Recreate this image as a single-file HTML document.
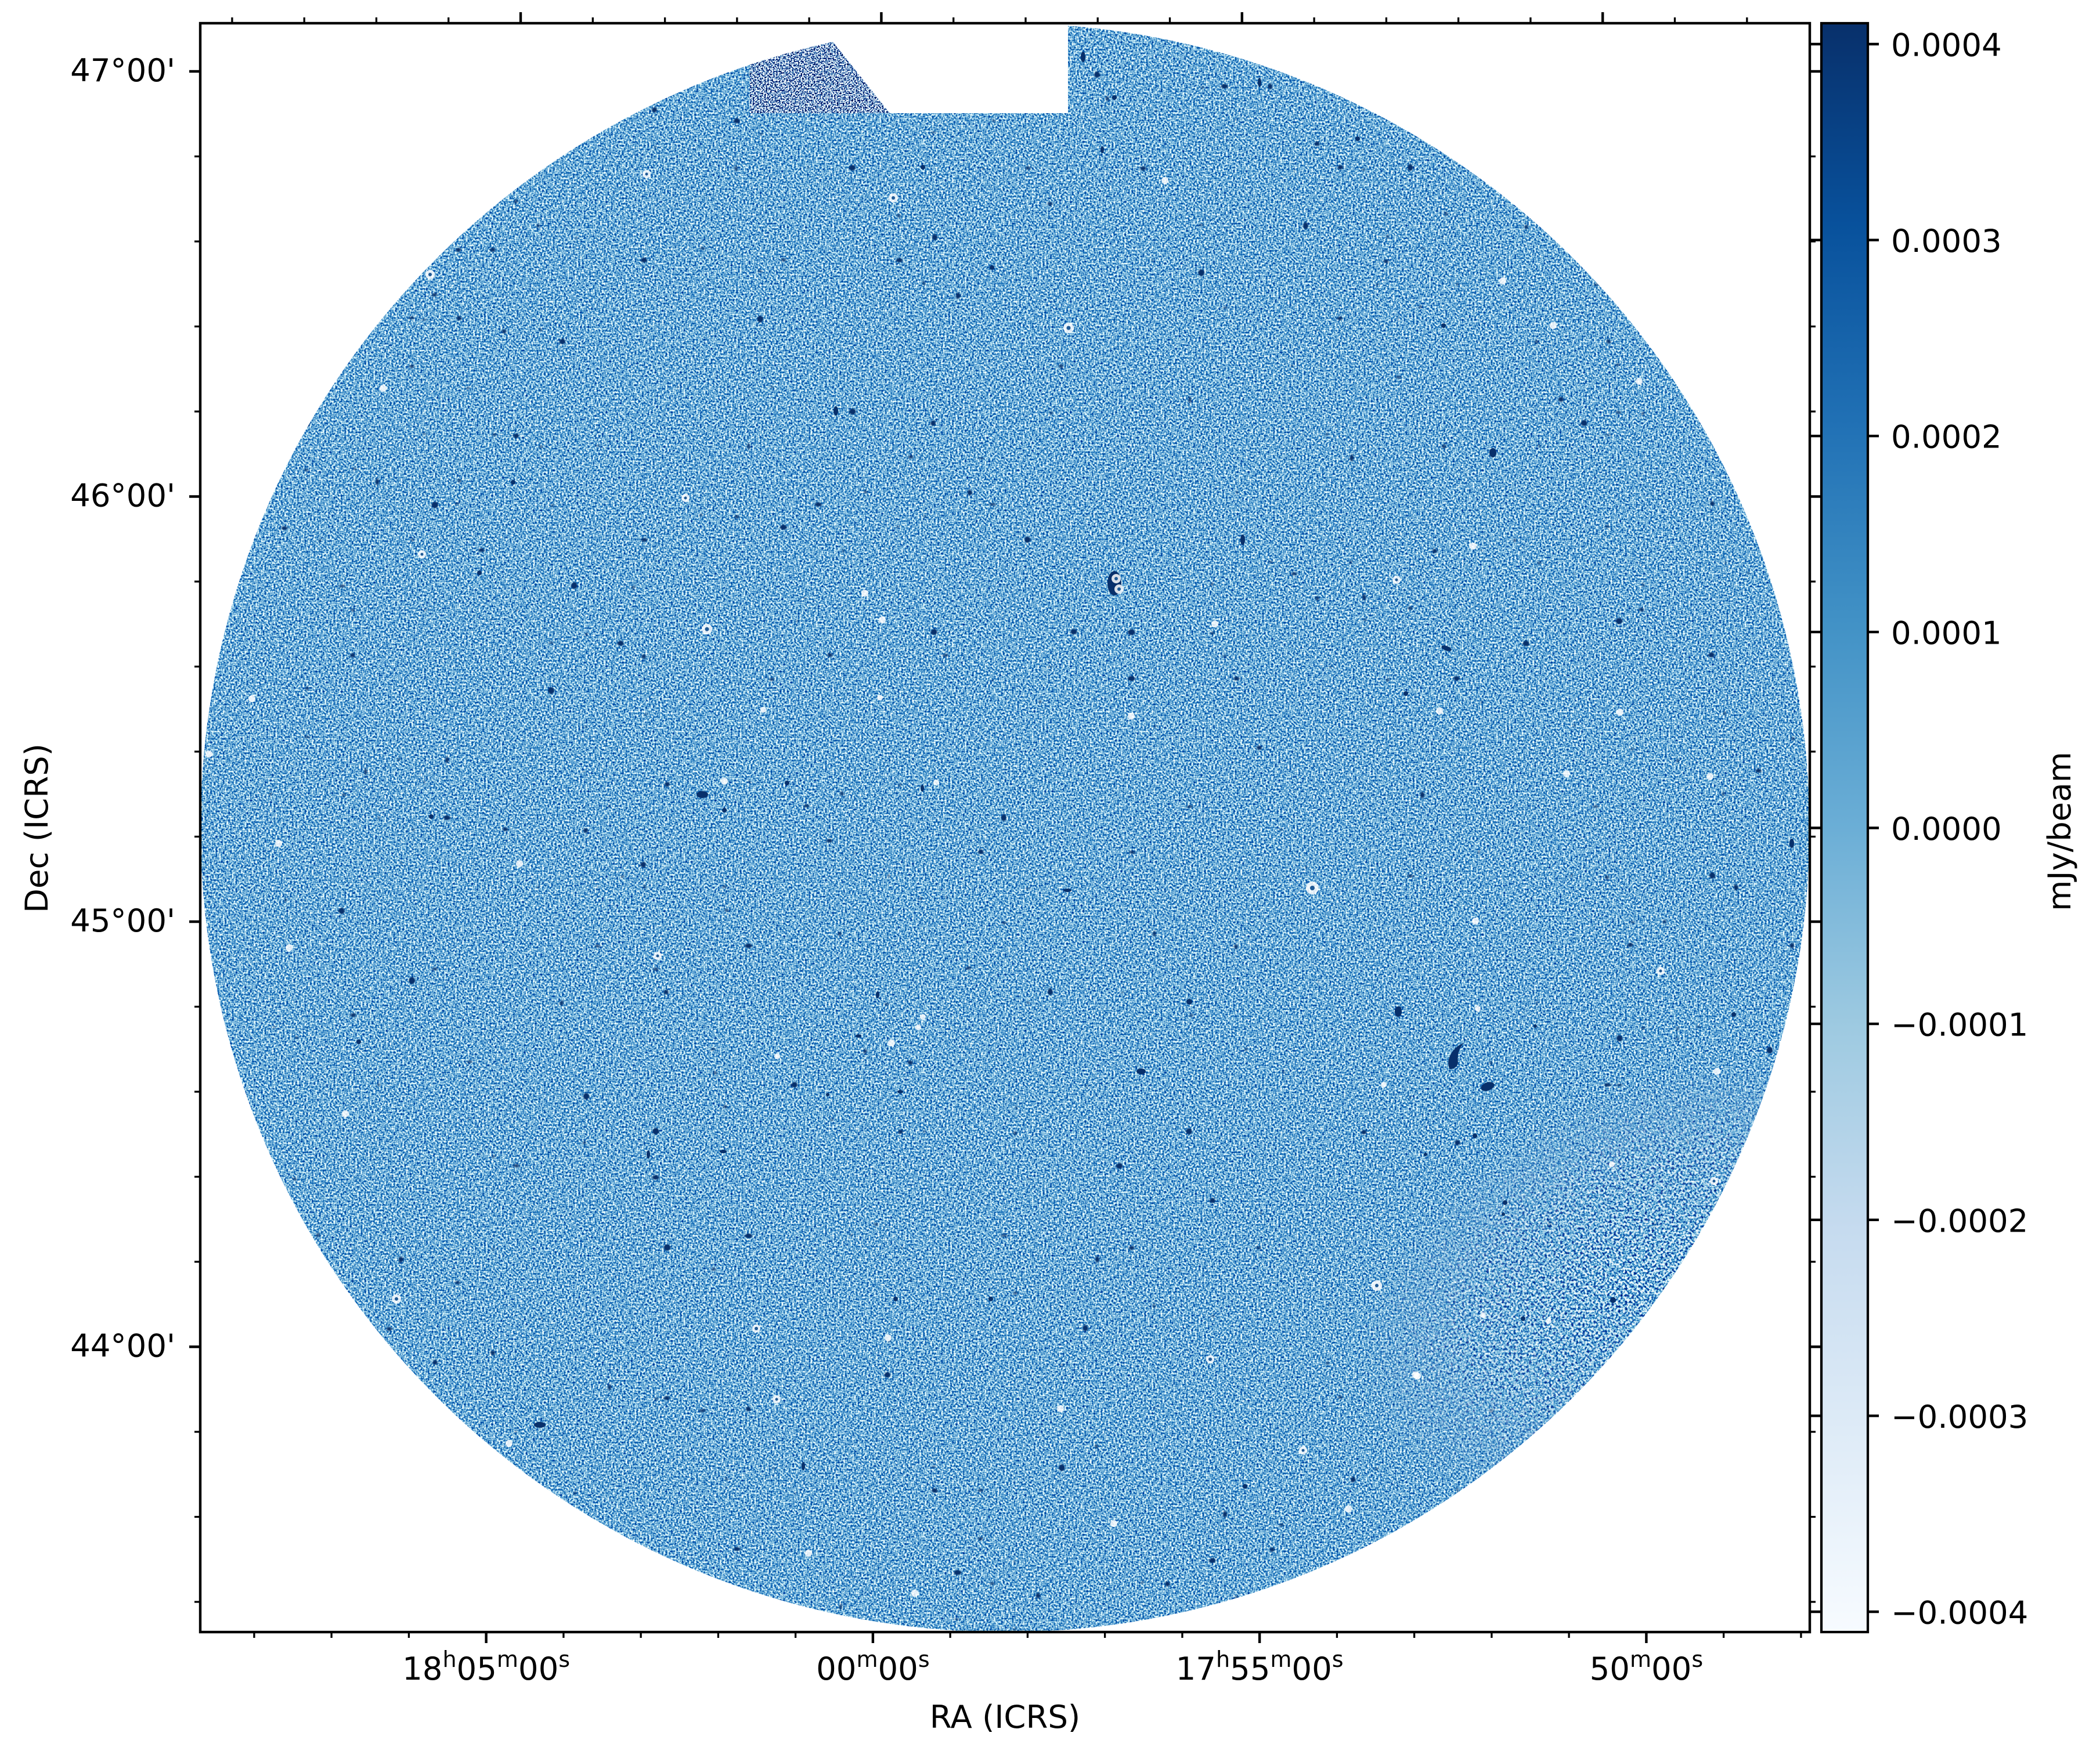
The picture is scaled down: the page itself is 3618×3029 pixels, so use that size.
<!DOCTYPE html>
<html><head><meta charset="utf-8">
<style>
html,body{margin:0;padding:0;background:#fff;}
svg{display:block;}
text{font-family:"DejaVu Sans","Liberation Sans",sans-serif;fill:#000;}
</style></head><body>
<svg xmlns="http://www.w3.org/2000/svg" width="3618" height="3029" viewBox="0 0 3618 3029">
<defs>
<clipPath id="disk"><circle cx="1731.5" cy="1426" r="1386"/></clipPath>
<clipPath id="patch"><polygon points="1292,0 1292,195 1533,195 1377.6,0"/></clipPath>
<filter id="nz" x="345" y="40" width="2773" height="2772" filterUnits="userSpaceOnUse" color-interpolation-filters="sRGB">
 <feTurbulence type="fractalNoise" baseFrequency="0.32" numOctaves="2" seed="3" result="t"/>
 <feColorMatrix in="t" type="matrix" values="-2.4 0 0 0 1.62  -1.7 0 0 0 1.52  -0.85 0 0 0 1.265  0 0 0 0 1" result="c"/>
 <feTurbulence type="fractalNoise" baseFrequency="0.05" numOctaves="1" seed="11" result="t2"/>
 <feColorMatrix in="t2" type="matrix" values="0 0 0 0 0.03  0 0 0 0 0.19  0 0 0 0 0.42  18 0 0 0 -13.5" result="d"/>
 <feMerge><feMergeNode in="c"/><feMergeNode in="d"/></feMerge>
</filter>
<filter id="nz2" x="1280" y="40" width="300" height="170" filterUnits="userSpaceOnUse" color-interpolation-filters="sRGB">
 <feTurbulence type="fractalNoise" baseFrequency="0.4" numOctaves="2" seed="8" result="t"/>
 <feColorMatrix in="t" type="matrix" values="-5.52 0 0 0 3.25  -3.96 0 0 0 2.63  -2.34 0 0 0 1.975  0 0 0 0 1"/>
</filter>
<filter id="nz3" x="2000" y="1700" width="1118" height="1112" filterUnits="userSpaceOnUse" color-interpolation-filters="sRGB">
 <feTurbulence type="fractalNoise" baseFrequency="0.26" numOctaves="2" seed="21" result="t"/>
 <feColorMatrix in="t" type="matrix" values="-4.5 0 0 0 2.72  -3 0 0 0 2.22  -1.5 0 0 0 1.61  0 0 0 0 1"/>
</filter>
<radialGradient id="rg" cx="2820" cy="2200" r="520" gradientUnits="userSpaceOnUse" gradientTransform="translate(2820 2200) rotate(-28) scale(1 0.6) translate(-2820 -2200)">
 <stop offset="0" stop-color="#fff" stop-opacity="0.9"/>
 <stop offset="0.6" stop-color="#fff" stop-opacity="0.65"/>
 <stop offset="1" stop-color="#fff" stop-opacity="0"/>
</radialGradient>
<mask id="mk" maskUnits="userSpaceOnUse" x="2000" y="1700" width="1118" height="1112">
 <rect x="2000" y="1700" width="1118" height="1112" fill="url(#rg)"/>
</mask>
<linearGradient id="cb" x1="0" y1="1" x2="0" y2="0">
 <stop offset="0" stop-color="#f7fbff"/>
 <stop offset="0.125" stop-color="#deebf7"/>
 <stop offset="0.25" stop-color="#c6dbef"/>
 <stop offset="0.375" stop-color="#9ecae1"/>
 <stop offset="0.5" stop-color="#6baed6"/>
 <stop offset="0.625" stop-color="#4292c6"/>
 <stop offset="0.75" stop-color="#2171b5"/>
 <stop offset="0.875" stop-color="#08519c"/>
 <stop offset="1" stop-color="#08306b"/>
</linearGradient>
</defs>

<!-- image disk -->
<g clip-path="url(#disk)">
 <rect x="345" y="40" width="2773" height="2772" fill="#6aaad6" filter="url(#nz)"/>
 <g mask="url(#mk)"><rect x="2000" y="1700" width="1118" height="1112" fill="#8bbce0" filter="url(#nz3)"/></g>
 <g clip-path="url(#patch)"><rect x="1280" y="40" width="300" height="170" fill="#5a9ad0" filter="url(#nz2)"/></g>
</g>
<polygon points="1377.6,0 1533,195 1840,195 1840,0" fill="#fff"/>

<!-- dark sources -->
<g fill="#08306b">
 <ellipse cx="1440" cy="708" rx="4" ry="8"/>
 <ellipse cx="2141" cy="930" rx="4" ry="9"/>
 <ellipse cx="2492" cy="1117" rx="9" ry="4" transform="rotate(20 2492 1117)"/>
 <ellipse cx="1210" cy="1369" rx="10" ry="6"/>
 <circle cx="884" cy="831" r="4"/>
 <circle cx="743" cy="1407" r="4"/>
 <ellipse cx="1839" cy="1534" rx="7" ry="3"/>
 <ellipse cx="2411" cy="1742" rx="4" ry="8"/>
 <ellipse cx="1966" cy="1846" rx="8" ry="5"/>
 <ellipse cx="930" cy="2455" rx="10" ry="5"/>
 <ellipse cx="1117" cy="1989" rx="3" ry="7"/>
 <circle cx="1543" cy="2238" r="4"/>
 <circle cx="1707" cy="2238" r="4"/>
 <circle cx="2049" cy="1726" r="5"/>
 <ellipse cx="2572" cy="780" rx="6" ry="8"/>
 <circle cx="2487" cy="561" r="4"/>
 <circle cx="1709" cy="461" r="4"/>
 <ellipse cx="1866" cy="98" rx="4" ry="9"/>
 <ellipse cx="1899" cy="258" rx="3" ry="6"/>
 <ellipse cx="2170" cy="142" rx="3" ry="8"/>
 <circle cx="1920" cy="168" r="4"/>
 <circle cx="2339" cy="239" r="4"/>
 <circle cx="1590" cy="288" r="4"/>
 <ellipse cx="3087" cy="1453" rx="4" ry="8"/>
 <circle cx="2422" cy="1195" r="4"/>
 <circle cx="826" cy="987" r="4"/>
 <ellipse cx="1384" cy="2526" rx="3" ry="7"/>
 <circle cx="2145" cy="2561" r="4"/>
 <circle cx="618" cy="1795" r="4"/>
 <ellipse cx="1246" cy="1984" rx="6" ry="3"/>
 <circle cx="1356" cy="1349" r="4"/>
 <circle cx="1248" cy="1396" r="4"/>
 <ellipse cx="1589" cy="1358" rx="3" ry="6"/>
 <ellipse cx="1512" cy="1714" rx="3" ry="6"/>
 <ellipse cx="1551" cy="1881" rx="5" ry="3"/>
 <ellipse cx="1479" cy="1785" rx="5" ry="3"/>
 <circle cx="1426" cy="1886" r="3"/>
 <ellipse cx="2409" cy="1743" rx="6" ry="9"/>
 <circle cx="2987" cy="1748" r="4"/>
 <circle cx="2645" cy="1768" r="3"/>
 <circle cx="2593" cy="2072" r="4"/>
 <circle cx="2541" cy="1957" r="4"/>
 <circle cx="2779" cy="2240" r="5"/>
 <circle cx="2456" cy="1989" r="3"/>
 <circle cx="2624" cy="2272" r="4"/>
 <circle cx="2590" cy="2092" r="3"/>
 <path d="M2522,1797 C2500,1805 2490,1830 2498,1842 C2508,1842 2512,1835 2512,1830 C2510,1815 2515,1805 2522,1797 Z"/>
 <ellipse cx="2563" cy="1872" rx="12" ry="7" transform="rotate(-20 2563 1872)"/>
 <ellipse cx="1920" cy="1005" rx="12" ry="21"/>
</g>

<!-- white-ring sources -->
<g fill="#fff" fill-opacity="0.85">
 <circle cx="1923" cy="997" r="8"/><circle cx="1928" cy="1015" r="8"/>
 <circle cx="1114" cy="300" r="7"/><circle cx="1539" cy="341" r="8"/><circle cx="2007" cy="311" r="6"/>
 <circle cx="741" cy="473" r="8"/><circle cx="1841" cy="565" r="9"/><circle cx="2589" cy="484" r="6"/>
 <circle cx="2676" cy="561" r="6"/><circle cx="660" cy="669" r="6"/><circle cx="2824" cy="657" r="6"/>
 <circle cx="1181" cy="858" r="7"/><circle cx="727" cy="955" r="7"/><circle cx="2406" cy="999" r="7"/>
 <circle cx="2538" cy="941" r="6"/><circle cx="1490" cy="1022" r="6"/><circle cx="1218" cy="1084" r="9"/>
 <circle cx="1520" cy="1068" r="6"/><circle cx="2093" cy="1075" r="6"/><circle cx="434" cy="1204" r="6"/>
 <circle cx="1315" cy="1223" r="5"/><circle cx="1516" cy="1202" r="5"/><circle cx="1949" cy="1234" r="6"/>
 <circle cx="2480" cy="1225" r="6"/><circle cx="2791" cy="1227" r="6"/><circle cx="360" cy="1299" r="6"/>
 <circle cx="2699" cy="1333" r="6"/><circle cx="2946" cy="1338" r="6"/><circle cx="480" cy="1453" r="6"/>
 <circle cx="895" cy="1488" r="6"/><circle cx="2261" cy="1530" r="11"/><circle cx="1133" cy="1647" r="7"/>
 <circle cx="498" cy="1633" r="6"/><circle cx="2542" cy="1587" r="6"/><circle cx="2861" cy="1673" r="7"/>
 <circle cx="595" cy="1919" r="6"/><circle cx="2958" cy="1846" r="6"/><circle cx="1303" cy="2289" r="7"/>
 <circle cx="1530" cy="2305" r="6"/><circle cx="2085" cy="2342" r="7"/><circle cx="2372" cy="2215" r="9"/>
 <circle cx="2953" cy="2035" r="7"/><circle cx="683" cy="2238" r="8"/><circle cx="1338" cy="2411" r="7"/>
 <circle cx="2245" cy="2499" r="7"/><circle cx="877" cy="2487" r="6"/><circle cx="1393" cy="2676" r="6"/>
 <circle cx="1576" cy="2745" r="6"/><circle cx="2439" cy="2369" r="6"/><circle cx="2323" cy="2600" r="6"/>
 <circle cx="1827" cy="2427" r="6"/><circle cx="1919" cy="2625" r="6"/>
 <circle cx="1248" cy="1346" r="6"/><circle cx="1613" cy="1348" r="5"/><circle cx="1590" cy="1752" r="5"/>
 <circle cx="1582" cy="1770" r="5"/><circle cx="1536" cy="1797" r="6"/><circle cx="1339" cy="1820" r="5"/>
 <circle cx="2546" cy="1738" r="5"/><circle cx="2384" cy="1869" r="5"/><circle cx="2777" cy="2006" r="5"/>
 <circle cx="2555" cy="2266" r="5"/><circle cx="2668" cy="2276" r="5"/><circle cx="2442" cy="2371" r="6"/>
</g>
<g fill="#1f5a96">
 <circle cx="1923" cy="997" r="3"/><circle cx="1928" cy="1015" r="3"/>
 <circle cx="1114" cy="300" r="2.5"/><circle cx="1539" cy="341" r="3"/><circle cx="1841" cy="565" r="3.5"/>
 <circle cx="741" cy="473" r="3"/><circle cx="1218" cy="1084" r="3.5"/><circle cx="2261" cy="1530" r="4"/>
 <circle cx="2372" cy="2215" r="3"/><circle cx="683" cy="2238" r="3"/><circle cx="1303" cy="2289" r="3"/>
 <circle cx="2085" cy="2342" r="3"/><circle cx="1181" cy="858" r="2.5"/><circle cx="727" cy="955" r="2.5"/>
 <circle cx="2406" cy="999" r="2.5"/><circle cx="1133" cy="1647" r="2.5"/><circle cx="2245" cy="2499" r="2.5"/>
 <circle cx="2861" cy="1673" r="2.5"/><circle cx="2953" cy="2035" r="2.5"/><circle cx="1338" cy="2411" r="2.5"/>
</g>

<!-- axes frame -->
<rect x="345" y="40" width="2773" height="2772" fill="none" stroke="#000" stroke-width="4.4"/>

<!-- major ticks -->
<path stroke="#000" stroke-width="4.4" fill="none" d="
M897,40V21 M1518.4,40V21 M2139.8,40V21 M2761.2,40V21
M837.6,2812V2831 M1503.9,2812V2831 M2170.1,2812V2831 M2836.4,2812V2831
M345,123H326 M345,855.5H326 M345,1588H326 M345,2320.5H326
M3118,123H3137 M3118,855.5H3137 M3118,1588H3137 M3118,2320.5H3137"/>
<!-- minor ticks -->
<path stroke="#000" stroke-width="3.3" fill="none" d="
M399.9,40V30 M524.2,40V30 M648.4,40V30 M772.7,40V30 M1021.3,40V30 M1145.6,40V30 M1269.8,40V30 M1394.1,40V30
M1642.7,40V30 M1767,40V30 M1891.2,40V30 M2015.5,40V30 M2264.1,40V30 M2388.4,40V30 M2512.6,40V30 M2636.9,40V30
M2885.5,40V30 M3009.8,40V30
M437.9,2812V2822 M571.1,2812V2822 M704.4,2812V2822 M970.9,2812V2822 M1104.1,2812V2822 M1237.4,2812V2822
M1370.6,2812V2822 M1637.1,2812V2822 M1770.4,2812V2822 M1903.6,2812V2822 M2036.9,2812V2822 M2303.4,2812V2822
M2436.6,2812V2822 M2569.9,2812V2822 M2703.1,2812V2822 M2969.6,2812V2822 M3102.9,2812V2822
M345,269.5H335 M345,416H335 M345,562.5H335 M345,709H335 M345,1002H335 M345,1148.5H335 M345,1295H335
M345,1441.5H335 M345,1734.5H335 M345,1881H335 M345,2027.5H335 M345,2174H335 M345,2467H335 M345,2613.5H335 M345,2760H335
M3118,269.5H3128 M3118,416H3128 M3118,562.5H3128 M3118,709H3128 M3118,1002H3128 M3118,1148.5H3128 M3118,1295H3128
M3118,1441.5H3128 M3118,1734.5H3128 M3118,1881H3128 M3118,2027.5H3128 M3118,2174H3128 M3118,2467H3128 M3118,2613.5H3128 M3118,2760H3128"/>

<!-- Dec tick labels -->
<g font-size="54.5" text-anchor="end">
 <text x="302" y="140">47°00'</text>
 <text x="302" y="872.5">46°00'</text>
 <text x="302" y="1605">45°00'</text>
 <text x="302" y="2337.5">44°00'</text>
</g>
<!-- RA tick labels -->
<g font-size="54.5" text-anchor="middle">
 <text x="837.6" y="2894">18<tspan font-size="38" dy="-22">h</tspan><tspan dy="22">05</tspan><tspan font-size="38" dy="-22">m</tspan><tspan dy="22">00</tspan><tspan font-size="38" dy="-22">s</tspan></text>
 <text x="1503.9" y="2894">00<tspan font-size="38" dy="-22">m</tspan><tspan dy="22">00</tspan><tspan font-size="38" dy="-22">s</tspan></text>
 <text x="2170.1" y="2894">17<tspan font-size="38" dy="-22">h</tspan><tspan dy="22">55</tspan><tspan font-size="38" dy="-22">m</tspan><tspan dy="22">00</tspan><tspan font-size="38" dy="-22">s</tspan></text>
 <text x="2836.4" y="2894">50<tspan font-size="38" dy="-22">m</tspan><tspan dy="22">00</tspan><tspan font-size="38" dy="-22">s</tspan></text>
</g>
<!-- axis labels -->
<text x="1731.5" y="2977" font-size="54.5" text-anchor="middle">RA (ICRS)</text>
<text transform="translate(82 1427) rotate(-90)" font-size="54.5" text-anchor="middle">Dec (ICRS)</text>

<!-- colorbar -->
<rect x="3138" y="40" width="80" height="2772" fill="url(#cb)" stroke="#000" stroke-width="4.2"/>
<path stroke="#000" stroke-width="4.4" fill="none" d="
M3218,76H3237 M3218,413.6H3237 M3218,751.2H3237 M3218,1088.9H3237 M3218,1426.5H3237 M3218,1764.1H3237 M3218,2101.8H3237 M3218,2439.4H3237 M3218,2777H3237
M3138,76H3119 M3138,413.6H3119 M3138,751.2H3119 M3138,1088.9H3119 M3138,1426.5H3119 M3138,1764.1H3119 M3138,2101.8H3119 M3138,2439.4H3119 M3138,2777H3119"/>
<g font-size="54.5">
 <text x="3258" y="96.5">0.0004</text>
 <text x="3258" y="434.1">0.0003</text>
 <text x="3258" y="771.7">0.0002</text>
 <text x="3258" y="1109.4">0.0001</text>
 <text x="3258" y="1447">0.0000</text>
 <text x="3258" y="1784.6">−0.0001</text>
 <text x="3258" y="2122.3">−0.0002</text>
 <text x="3258" y="2459.9">−0.0003</text>
 <text x="3258" y="2797.5">−0.0004</text>
</g>
<text transform="translate(3567 1432.5) rotate(-90)" font-size="54.5" text-anchor="middle">mJy/beam</text>
</svg>
</body></html>
